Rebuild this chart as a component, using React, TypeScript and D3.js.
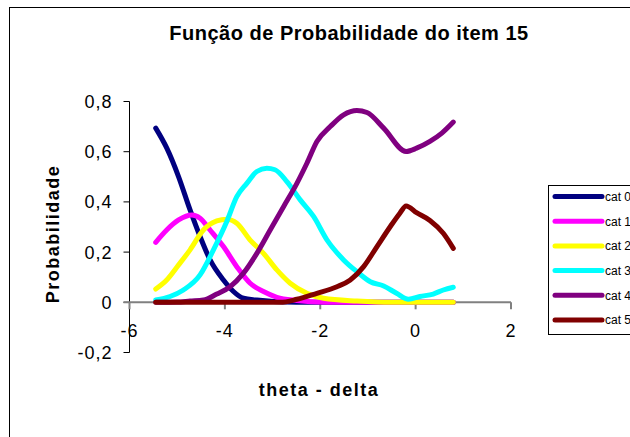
import React from "react";
import * as d3 from "d3";

const title = "Função de Probabilidade do item 15";
const xLabel = "theta - delta";
const yLabel = "Probabilidade";
const xTicks = [-6, -4, -2, 0, 2];
const yTicks = [-0.2, 0, 0.2, 0.4, 0.6, 0.8];
const seriesNames = ["cat 0", "cat 1", "cat 2", "cat 3", "cat 4", "cat 5"];
const seriesColors = ["#000080", "#FF00FF", "#FFFF00", "#00FFFF", "#800080", "#800000"];

const cat0: [number, number][] = [
  [-5.45, 0.694], [-5.22, 0.615], [-4.97, 0.5], [-4.73, 0.368], [-4.52, 0.262],
  [-4.31, 0.169], [-4.03, 0.089], [-3.82, 0.043], [-3.61, 0.016], [-3.33, 0.009],
  [-2.98, 0.003], [-2.5, 0.0], [-1.5, 0], [-0.5, 0], [0.5, 0], [0.79, 0],
];
const cat1: [number, number][] = [
  [-5.45, 0.239], [-5.22, 0.288], [-4.97, 0.328], [-4.69, 0.348], [-4.52, 0.335],
  [-4.31, 0.288], [-4.03, 0.222], [-3.75, 0.142], [-3.47, 0.076], [-3.19, 0.043],
  [-2.91, 0.02], [-2.49, 0.007], [-1.93, 0], [-1.0, 0], [0, 0], [0.79, 0],
];
const cat2: [number, number][] = [
  [-5.45, 0.053], [-5.22, 0.089], [-4.97, 0.149], [-4.73, 0.209], [-4.45, 0.288],
  [-4.17, 0.324], [-3.96, 0.331], [-3.75, 0.315], [-3.47, 0.248], [-3.19, 0.195],
  [-2.91, 0.129], [-2.63, 0.076], [-2.28, 0.036], [-1.93, 0.016], [-1.23, 0.005],
  [-0.5, 0], [0.79, 0],
];
const cat3: [number, number][] = [
  [-5.45, 0.009], [-5.15, 0.023], [-4.87, 0.049], [-4.52, 0.109], [-4.24, 0.209],
  [-3.96, 0.322], [-3.75, 0.421], [-3.54, 0.474], [-3.33, 0.521], [-3.12, 0.534],
  [-2.95, 0.528], [-2.7, 0.481], [-2.42, 0.408], [-2.14, 0.342], [-1.86, 0.249],
  [-1.51, 0.169], [-1.23, 0.122], [-0.95, 0.082], [-0.67, 0.065], [-0.4, 0.036],
  [-0.15, 0.012], [0.09, 0.023], [0.37, 0.033], [0.58, 0.049], [0.79, 0.06],
];
const cat4: [number, number][] = [
  [-5.45, 0], [-5.0, 0.001], [-4.73, 0.005], [-4.45, 0.009], [-4.17, 0.033],
  [-3.89, 0.062], [-3.61, 0.116], [-3.33, 0.195], [-3.05, 0.288], [-2.77, 0.381],
  [-2.49, 0.474], [-2.28, 0.554], [-2.07, 0.641], [-1.79, 0.7], [-1.51, 0.747],
  [-1.23, 0.764], [-1.02, 0.756], [-0.67, 0.694], [-0.2, 0.601], [0.02, 0.614],
  [0.3, 0.641], [0.55, 0.674], [0.79, 0.718],
];
const cat5: [number, number][] = [
  [-5.45, 0], [-4.5, 0], [-3.5, 0], [-2.84, 0], [-2.49, 0.012], [-2.07, 0.036],
  [-1.65, 0.062], [-1.37, 0.089], [-1.09, 0.142], [-0.81, 0.222], [-0.53, 0.302],
  [-0.33, 0.355], [-0.2, 0.384], [0.02, 0.357], [0.3, 0.326], [0.58, 0.275], [0.79, 0.215],
];
const seriesData = [cat0, cat1, cat2, cat3, cat4, cat5];

const fmtY = (v: number) => (Math.abs(v) < 1e-9 ? "0" : v.toFixed(1).replace(".", ","));
const fmtX = (v: number) => String(v);

export default function App() {
  const W = 630;
  const H = 437;
  const x = d3.scaleLinear().domain([-6, 2]).range([129.5, 511]);
  const y = d3.scaleLinear().domain([-0.2, 0.8]).range([352.5, 101.5]);
  const line = d3
    .line<[number, number]>()
    .x((d) => x(d[0]))
    .y((d) => y(d[1]))
    .curve(d3.curveMonotoneX);
  const font = "Arial, 'Liberation Sans', sans-serif";
  const legX = 548.5;
  const legY = 185.5;
  const legStep = 24.7;
  return (
    <svg
      width={W}
      height={H}
      style={{ position: "absolute", left: 0, top: 0, background: "#fff" }}
      fontFamily={font}
    >
      <rect x={0} y={0} width={W} height={H} fill="#fff" />
      <rect x={9.5} y={7.5} width={W + 20} height={H + 20} fill="none" stroke="#000" strokeWidth={1} />
      <text x={349} y={40} textAnchor="middle" fontSize={20} fontWeight="bold" letterSpacing={0.5}>
        {title}
      </text>
      {/* y axis */}
      <line x1={x(-6)} x2={x(-6)} y1={y(0.8)} y2={y(-0.2)} stroke="#000" strokeWidth={1} />
      {yTicks.map((t) => (
        <g key={t}>
          <line x1={x(-6) - 6} x2={x(-6)} y1={y(t)} y2={y(t)} stroke="#000" strokeWidth={1} />
          <text x={x(-6) - 17} y={y(t)} dy="0.36em" textAnchor="end" fontSize={18} letterSpacing={1}>
            {fmtY(t)}
          </text>
        </g>
      ))}
      {/* x axis */}
      <line x1={x(-6) - 6} x2={x(2)} y1={y(0)} y2={y(0)} stroke="#808080" strokeWidth={2} />
      {xTicks.map((t) => (
        <g key={t}>
          <line x1={x(t)} x2={x(t)} y1={y(0)} y2={y(0) + 7} stroke="#808080" strokeWidth={2} />
          <text x={x(t)} y={y(0) + 34.5} textAnchor="middle" fontSize={18} letterSpacing={1}>
            {fmtX(t)}
          </text>
        </g>
      ))}
      <text x={319} y={396} textAnchor="middle" fontSize={18} fontWeight="bold" letterSpacing={1.5}>
        {xLabel}
      </text>
      <text
        transform={`translate(59,234) rotate(-90)`}
        textAnchor="middle"
        fontSize={18}
        fontWeight="bold"
        letterSpacing={1.5}
      >
        {yLabel}
      </text>
      {seriesData.map((d, i) => (
        <path
          key={i}
          d={line(d) || ""}
          fill="none"
          stroke={seriesColors[i]}
          strokeWidth={5}
          strokeLinecap="round"
          strokeLinejoin="round"
        />
      ))}
      {/* legend */}
      <rect x={legX} y={legY} width={120} height={149} fill="#fff" stroke="#000" strokeWidth={1} />
      {seriesNames.map((n, i) => (
        <g key={n}>
          <line
            x1={555}
            x2={602}
            y1={legY + 11 + i * legStep}
            y2={legY + 11 + i * legStep}
            stroke={seriesColors[i]}
            strokeWidth={5}
            strokeLinecap="round"
          />
          <text x={605} y={legY + 11 + i * legStep} dy="0.36em" fontSize={12}>
            {n}
          </text>
        </g>
      ))}
    </svg>
  );
}
